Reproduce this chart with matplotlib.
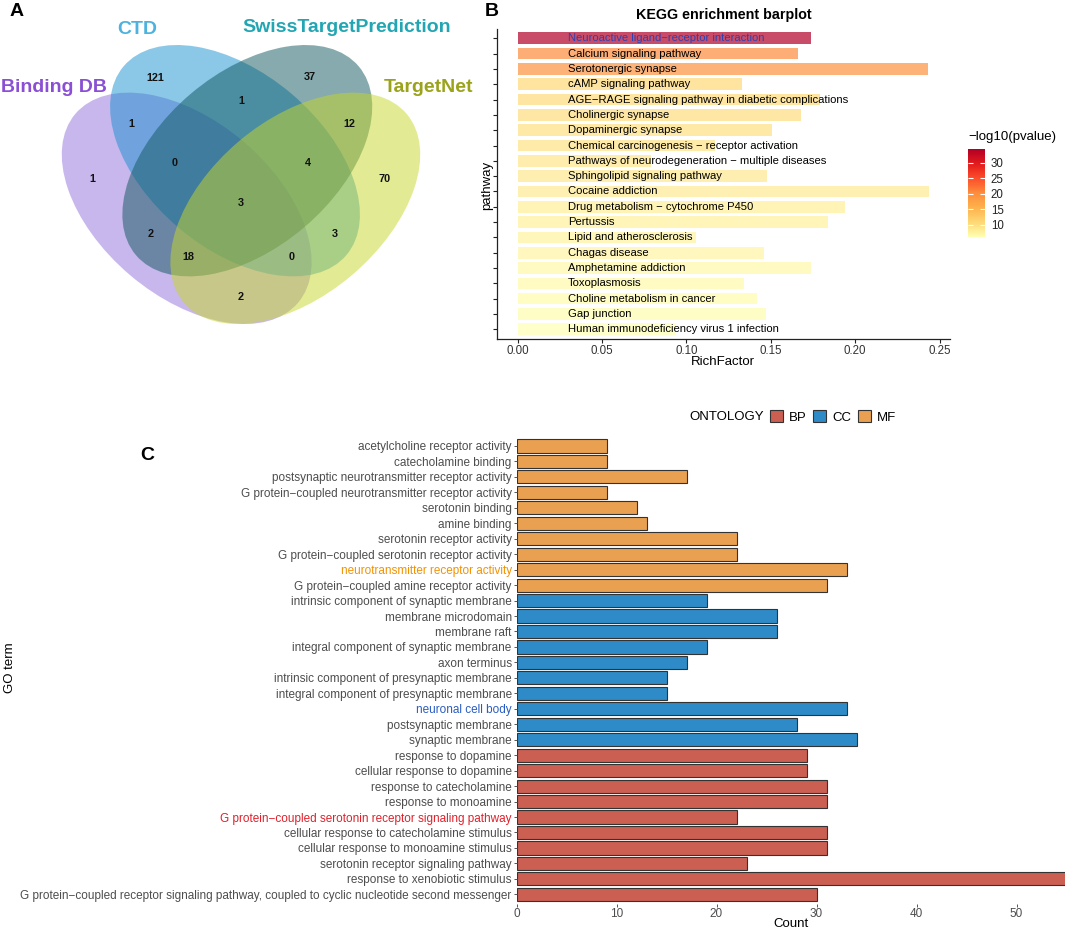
import matplotlib
matplotlib.use('Agg')
import matplotlib.pyplot as plt
import numpy as np
from matplotlib.patches import Ellipse, Patch
from matplotlib.colors import LinearSegmentedColormap, Normalize
from matplotlib.cm import ScalarMappable

plt.rcParams['font.family'] = ['Liberation Sans', 'DejaVu Sans']

# ---------------- data ----------------
# Panel A: Venn diagram
venn_sets = ["Binding DB", "CTD", "SwissTargetPrediction", "TargetNet"]
venn_fill = ["#9370DB", "#1991D1", "#0F575D", "#C7D729"]
venn_text_colors = ["#8A4FD4", "#4DB3DE", "#22A6B3", "#9BA31B"]
# membership code (BindingDB, CTD, Swiss, TargetNet) -> count
venn_codes = ["1000", "0100", "0010", "0001", "1100", "0110", "0011",
              "1110", "0111", "1111", "1010", "0101", "1011", "1101", "1001"]
venn_counts = [1, 121, 37, 70, 1, 1, 12, 0, 4, 3, 2, 3, 18, 0, 2]

# Panel B: KEGG enrichment
kegg_pathways = [
    "Neuroactive ligand\u2212receptor interaction",
    "Calcium signaling pathway",
    "Serotonergic synapse",
    "cAMP signaling pathway",
    "AGE\u2212RAGE signaling pathway in diabetic complications",
    "Cholinergic synapse",
    "Dopaminergic synapse",
    "Chemical carcinogenesis \u2212 receptor activation",
    "Pathways of neurodegeneration \u2212 multiple diseases",
    "Sphingolipid signaling pathway",
    "Cocaine addiction",
    "Drug metabolism \u2212 cytochrome P450",
    "Pertussis",
    "Lipid and atherosclerosis",
    "Chagas disease",
    "Amphetamine addiction",
    "Toxoplasmosis",
    "Choline metabolism in cancer",
    "Gap junction",
    "Human immunodeficiency virus 1 infection",
]
kegg_richfactor = [0.174, 0.166, 0.243, 0.133, 0.179, 0.168, 0.151, 0.117, 0.079, 0.148,
                   0.244, 0.194, 0.184, 0.106, 0.146, 0.174, 0.134, 0.142, 0.147, 0.094]
kegg_neglog10p = [34.4, 20.3, 19.6, 10.8, 10.5, 10.2, 10.0, 9.6, 9.2, 8.9,
                  8.5, 8.2, 7.9, 7.6, 7.3, 7.0, 6.8, 6.5, 6.3, 6.05]
kegg_xticks = [0.00, 0.05, 0.10, 0.15, 0.20, 0.25]
kegg_cbar_ticks = [10, 15, 20, 25, 30]

# Panel C: GO enrichment
go_terms = [
    "acetylcholine receptor activity",
    "catecholamine binding",
    "postsynaptic neurotransmitter receptor activity",
    "G protein\u2212coupled neurotransmitter receptor activity",
    "serotonin binding",
    "amine binding",
    "serotonin receptor activity",
    "G protein\u2212coupled serotonin receptor activity",
    "neurotransmitter receptor activity",
    "G protein\u2212coupled amine receptor activity",
    "intrinsic component of synaptic membrane",
    "membrane microdomain",
    "membrane raft",
    "integral component of synaptic membrane",
    "axon terminus",
    "intrinsic component of presynaptic membrane",
    "integral component of presynaptic membrane",
    "neuronal cell body",
    "postsynaptic membrane",
    "synaptic membrane",
    "response to dopamine",
    "cellular response to dopamine",
    "response to catecholamine",
    "response to monoamine",
    "G protein\u2212coupled serotonin receptor signaling pathway",
    "cellular response to catecholamine stimulus",
    "cellular response to monoamine stimulus",
    "serotonin receptor signaling pathway",
    "response to xenobiotic stimulus",
    "G protein\u2212coupled receptor signaling pathway, coupled to cyclic nucleotide second messenger",
]
go_counts = [9, 9, 17, 9, 12, 13, 22, 22, 33, 31,
             19, 26, 26, 19, 17, 15, 15, 33, 28, 34,
             29, 29, 31, 31, 22, 31, 31, 23, 55, 30]
go_ontology = ["MF"] * 10 + ["CC"] * 10 + ["BP"] * 10
ontology_levels = ["BP", "CC", "MF"]
ontology_colors = {"BP": "#CB5F52", "CC": "#2E8BC8", "MF": "#E9A050"}
go_highlight = {"neurotransmitter receptor activity": "#F39200",
                "neuronal cell body": "#2A5CC0",
                "G protein\u2212coupled serotonin receptor signaling pathway": "#E0202A"}
go_xticks = [0, 10, 20, 30, 40, 50]

# ---------------- layout ----------------
W, H = 1065, 931
fig = plt.figure(figsize=(W / 100, H / 100), dpi=100)


def rect(l, t, r, b):
    return [l / W, 1 - b / H, (r - l) / W, (b - t) / H]


def fx(px):
    return px / W


def fy(py):
    return 1 - py / H


# ---------------- Panel A ----------------
axA = fig.add_axes(rect(0, 0, 480, 340))
axA.set_xlim(0, 480)
axA.set_ylim(340, 0)
axA.axis('off')
ell_a, ell_b, ell_ang = 146.0, 87.6, 40.3
ell_centers = [(186.7, 208.3), (235.0, 160.7), (247.3, 160.7), (295.3, 208.3)]
ell_angles = [ell_ang, ell_ang, -ell_ang, -ell_ang]
for (cx, cy), ang, col in zip(ell_centers, ell_angles, venn_fill):
    axA.add_patch(Ellipse((cx, cy), 2 * ell_a, 2 * ell_b, angle=ang,
                          facecolor=col, alpha=0.5, edgecolor='none'))
set_label_pos = [(54, 88), (137, 30), (347, 27), (428, 88)]
for name, (x, y), c in zip(venn_sets, set_label_pos, venn_text_colors):
    axA.text(x, y, name, ha='center', va='center', fontsize=14,
             fontweight='bold', color=c)
region_pos = {"1000": (92, 179), "0100": (155.7, 77.7), "0010": (310, 77.3),
              "0001": (384.7, 179.3), "1100": (131.7, 124.3), "0110": (241, 100.7),
              "0011": (349, 124.3), "1110": (174.3, 163.3), "0111": (307.7, 163.3),
              "1111": (241, 202.7), "1010": (151, 234), "0101": (335, 234),
              "1011": (188.3, 257.3), "1101": (291.7, 257.3), "1001": (241, 297)}
for code, cnt in zip(venn_codes, venn_counts):
    x, y = region_pos[code]
    axA.text(x, y, str(cnt), ha='center', va='center', fontsize=7.8,
             fontweight='bold', color='#111111')

# ---------------- Panel B ----------------
cols7 = ["#FFFFB2", "#FED976", "#FEB24C", "#FD8D3C", "#FC4E2A", "#E31A1C", "#B10026"]
cmap = LinearSegmentedColormap.from_list("ylorrd7", cols7)
norm = Normalize(vmin=min(kegg_neglog10p), vmax=max(kegg_neglog10p))

axB = fig.add_axes(rect(497, 29.1, 950, 338.5))
yb = np.arange(len(kegg_pathways))
axB.barh(yb, kegg_richfactor, height=0.76, color=cmap(norm(np.array(kegg_neglog10p))),
         alpha=0.7, edgecolor='none')
axB.set_xlim(-0.0122, 0.2562)
axB.set_ylim(len(kegg_pathways) - 0.4, -0.6)
for i, name in enumerate(kegg_pathways):
    axB.text(0.03, i, name, ha='left', va='center', fontsize=8.1,
             color='#3040B0' if i == 0 else 'black')
axB.set_yticks(yb)
axB.set_yticklabels([])
axB.set_xticks(kegg_xticks)
axB.set_xticklabels(["%.2f" % v for v in kegg_xticks])
for s in ['top', 'right']:
    axB.spines[s].set_visible(False)
for s in ['left', 'bottom']:
    axB.spines[s].set_color('#222222')
    axB.spines[s].set_linewidth(0.9)
axB.tick_params(axis='both', length=3, width=0.8, color='#222222',
                labelsize=8.3, labelcolor='#333333', pad=1.5)
fig.text(fx(724), fy(15), "KEGG enrichment barplot", ha='center', va='center',
         fontsize=10.3, fontweight='bold')
fig.text(fx(723), fy(362), "RichFactor", ha='center', va='center', fontsize=9.5)
fig.text(fx(487), fy(185), "pathway", ha='center', va='center', rotation=90, fontsize=9.5)

cax = fig.add_axes(rect(967.7, 149, 985.3, 237.3))
cb = fig.colorbar(ScalarMappable(norm=norm, cmap=cmap), cax=cax)
cb.outline.set_visible(False)
cb.set_ticks(kegg_cbar_ticks)
cax.tick_params(axis='y', direction='in', length=3.5, width=0.8, color='white',
                labelsize=8.3, labelcolor='#222222', pad=4, left=True, right=True)
fig.text(fx(968), fy(137), "\u2212log10(pvalue)", ha='left', va='center', fontsize=9.5)

# ---------------- Panel C ----------------
axC = fig.add_axes(rect(516.5, 436.7, 1066.5, 903.6))
yc = np.arange(len(go_terms))
axC.barh(yc, go_counts, height=0.85,
         color=[ontology_colors[o] for o in go_ontology],
         edgecolor='#333333', linewidth=0.8)
axC.set_xlim(0, 55)
axC.set_ylim(len(go_terms) - 0.4, -0.6)
for s in axC.spines.values():
    s.set_visible(False)
axC.set_yticks(yc)
axC.set_yticklabels(go_terms)
axC.set_xticks(go_xticks)
axC.tick_params(axis='both', length=2.5, width=0.7, color='#555555',
                labelsize=8.5, labelcolor='#4D4D4D', pad=1)
for lab in axC.get_yticklabels():
    t = lab.get_text()
    if t in go_highlight:
        lab.set_color(go_highlight[t])
fig.text(fx(791), fy(924), "Count", ha='center', va='center', fontsize=9.5)
fig.text(fx(10), fy(668), "GO term", ha='center', va='center', rotation=90, fontsize=9.5)

fig.text(fx(689), fy(417), "ONTOLOGY", ha='left', va='center', fontsize=9.5)
handles = [Patch(facecolor=ontology_colors[o], edgecolor='#333333', linewidth=0.8)
           for o in ontology_levels]
fig.legend(handles, ontology_levels, loc='center left',
           bbox_to_anchor=(fx(770), fy(417)), ncol=3, frameon=False,
           fontsize=9.5, handlelength=0.95, handleheight=0.95, handletextpad=0.45,
           columnspacing=0.55, borderpad=0, borderaxespad=0)

# panel letters
fig.text(fx(17), fy(11), "A", ha='center', va='center', fontsize=14, fontweight='bold')
fig.text(fx(492), fy(11), "B", ha='center', va='center', fontsize=14, fontweight='bold')
fig.text(fx(147), fy(455), "C", ha='center', va='center', fontsize=14, fontweight='bold')

fig.savefig("out.png", dpi=100)
